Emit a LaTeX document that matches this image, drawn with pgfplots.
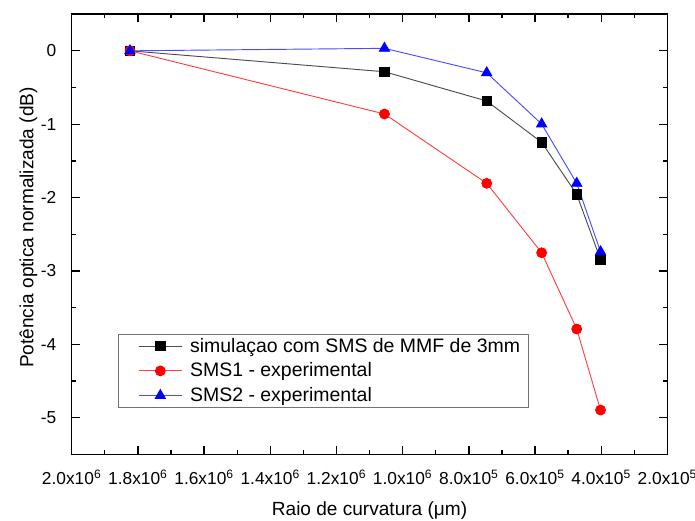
\documentclass[border=0pt]{standalone}
\usepackage{pgfplots}
\pgfplotsset{compat=1.18}
\usepackage{fontspec}
\setmainfont{Liberation Sans}

% normalised optical power vs. bend radius
\pgfplotstableread{
r        p
1824000  0
1055000  -0.285
746000   -0.684
580000   -1.247
474000   -1.956
402000   -2.845
}\simtable
\pgfplotstableread{
r        p
1824000  0
1055000  -0.861
746000   -1.806
580000   -2.752
474000   -3.792
402000   -4.896
}\smsone
\pgfplotstableread{
r        p
1824000  0
1055000  0.034
746000   -0.300
580000   -0.998
474000   -1.806
402000   -2.739
}\smstwo

\begin{document}
\begin{tikzpicture}
\begin{axis}[
  name=ax,
  scale only axis,
  width=446.8pt, height=330.2pt,
  xmin=200000, xmax=2000000, x dir=reverse,
  ymin=-5.5, ymax=0.5,
  xtick={200000,400000,600000,800000,1000000,1200000,1400000,1600000,1800000,2000000},
  xticklabels={2.0x10\textsuperscript{5},4.0x10\textsuperscript{5},6.0x10\textsuperscript{5},8.0x10\textsuperscript{5},
    1.0x10\textsuperscript{6},1.2x10\textsuperscript{6},1.4x10\textsuperscript{6},1.6x10\textsuperscript{6},
    1.8x10\textsuperscript{6},2.0x10\textsuperscript{6}},
  ytick={-5,-4,-3,-2,-1,0},
  yticklabels={-5,-4,-3,-2,-1,0},
  scaled x ticks=false,
  minor x tick num=1,
  minor y tick num=1,
  tick align=inside,
  tick pos=both,
  xticklabel pos=lower, yticklabel pos=left,
  major tick length=6pt,
  minor tick length=3pt,
  axis line style={line width=1.1pt},
  every tick/.style={black, line width=1pt},
  tick label style={font=\fontsize{13}{15}\selectfont},
  xticklabel style={yshift=-8.5pt},
  yticklabel style={xshift=-8pt},
  xlabel={Raio de curvatura (μm)},
  ylabel={Potência optica normalizada (dB)},
  every axis x label/.style={at={(axis description cs:0.5,0)}, anchor=center, yshift=-42pt,
    font=\fontsize{14.3}{17}\selectfont},
  every axis y label/.style={at={(axis description cs:0,0.5)}, rotate=90, anchor=center,
    xshift=5pt, yshift=32.4pt, font=\fontsize{14.3}{17}\selectfont},
  legend cell align=left,
  legend style={
    at={(0.0777,0.105)}, anchor=south west,
    draw=black!55, line width=0.8pt,
    font=\fontsize{14.6}{17.6}\selectfont,
    inner xsep=4pt, inner ysep=1pt,
    row sep=2.4pt,
  },
  legend image code/.code={
    \path (0pt,0pt) (47pt,0pt);
    \draw[mark repeat=2,mark phase=2,#1] plot coordinates {(11pt,0pt) (27pt,0pt) (43pt,0pt)};
  },
]
\addplot[color=black!70, line width=0.7pt, mark=square*, mark size=3.5pt,
  mark options={fill=black, draw=black, solid}] table[x=r, y=p] {\simtable};
\addlegendentry{simulaçao com SMS de MMF de 3mm}
\addplot[color=red!75, line width=0.7pt, mark=*, mark size=3.7pt,
  mark options={fill=red, draw=red, solid}] table[x=r, y=p] {\smsone};
\addlegendentry{SMS1 - experimental}
\addplot[color=blue!70, line width=0.7pt, mark=triangle*, mark size=4.4pt,
  mark options={fill=blue, draw=blue, solid}] table[x=r, y=p] {\smstwo};
\addlegendentry{SMS2 - experimental}
\end{axis}
\pgfresetboundingbox
\path[use as bounding box] ([xshift=-53.8pt, yshift=-49.3pt]ax.south west) rectangle ([xshift=20.7pt, yshift=10.6pt]ax.north east);
\end{tikzpicture}
\end{document}
